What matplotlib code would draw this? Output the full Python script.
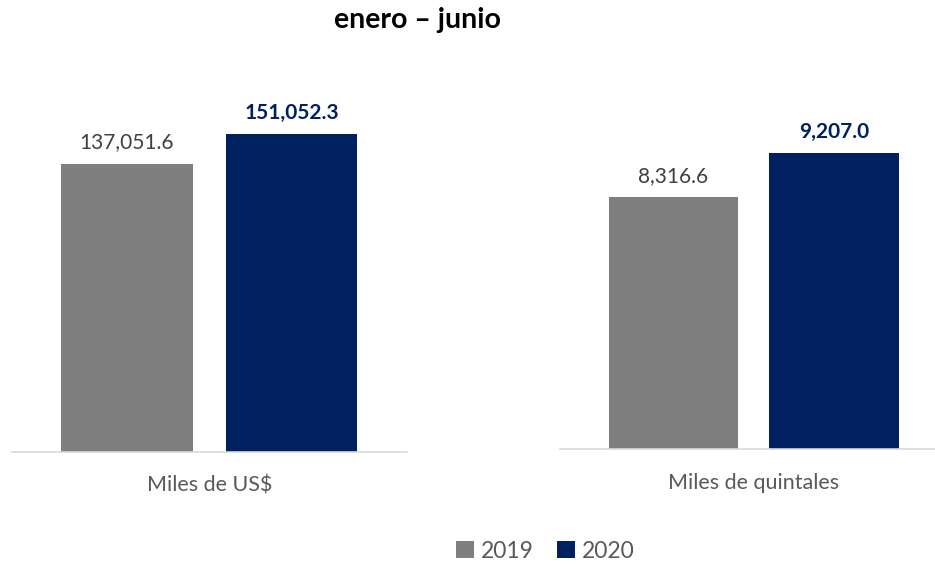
import matplotlib.pyplot as plt

# enero - junio, 2019 vs 2020
years = ['2019', '2020']
usd_values = [137051.6, 151052.3]
qq_values = [8316.6, 9207.0]
usd_labels = ['137,051.6', '151,052.3']
qq_labels = ['8,316.6', '9,207.0']
categories = ['Miles de US$', 'Miles de quintales']

colors = ['#7F7F7F', '#002060']
label_colors = ['#404040', '#002060']
label_weights = ['normal', 'bold']

plt.rcParams['font.family'] = ['Lato', 'DejaVu Sans']

fig = plt.figure(figsize=(9.35, 5.66), dpi=100)

ax1 = fig.add_axes([12/935, 114/566, 395/935, 362/566])
ax2 = fig.add_axes([560/935, 117/566, 375/935, 359/566])

panels = [
    (ax1, usd_values, usd_labels, categories[0], (0, 172000), (-0.699, 1.702), 0.80),
    (ax2, qq_values, qq_labels, categories[1], (3220, 10480), (-0.707, 1.629), 0.807),
]

bars_all = []
for ax, vals, labs, cat, ylim, xlim, w in panels:
    bars = ax.bar([0, 1], vals, width=w, color=colors)
    bars_all = bars
    for b, lab, c, fw in zip(bars, labs, label_colors, label_weights):
        ax.annotate(lab, (b.get_x() + b.get_width() / 2, b.get_height()),
                    xytext=(0, 8), textcoords='offset points',
                    ha='center', va='bottom', fontsize=15, color=c,
                    fontweight=fw)
    ax.set_ylim(*ylim)
    ax.set_xlim(*xlim)
    for s in ['top', 'left', 'right']:
        ax.spines[s].set_visible(False)
    ax.spines['bottom'].set_color('#D9D9D9')
    ax.spines['bottom'].set_linewidth(1.2)
    ax.set_xticks([0.5])
    ax.set_xticklabels([cat], fontsize=15.5, color='#595959')
    ax.tick_params(axis='x', length=0, pad=17)
    ax.set_yticks([])

fig.text(417/935, 1 - 20/566, 'enero – junio', ha='center', va='center',
         fontsize=20.5, fontweight='bold', color='#000000')

fig.legend(bars_all, years, loc='center', bbox_to_anchor=(545/935, 15/566),
           ncol=2, frameon=False, fontsize=16.5, handlelength=0.8,
           handleheight=0.8, handletextpad=0.3, columnspacing=1.0,
           labelcolor='#595959')

fig.savefig('out.png', dpi=100)
